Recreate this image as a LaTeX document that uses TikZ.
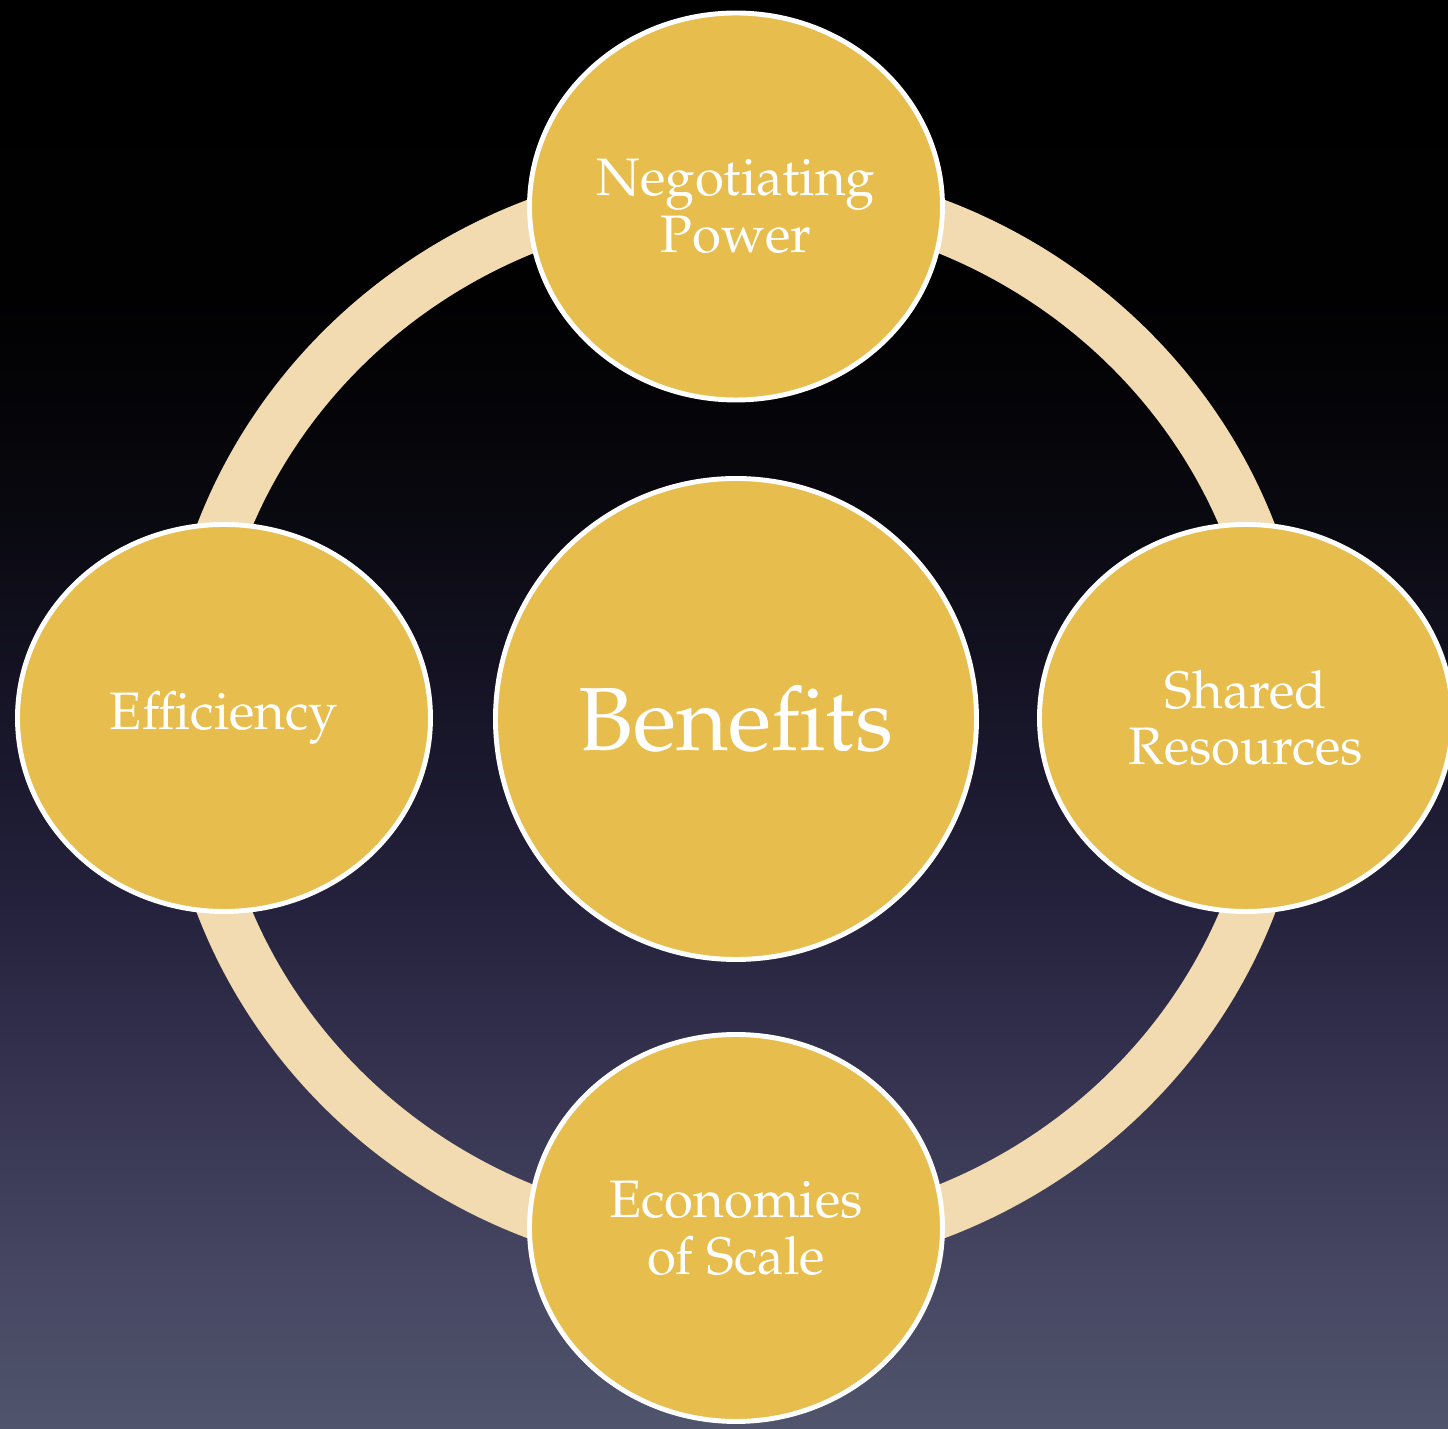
\documentclass[tikz,border=0pt]{standalone}
\usepackage[T1]{fontenc}
\usepackage{mathpazo}
\usepackage{tikz}
\usetikzlibrary{shapes.geometric,positioning}

\definecolor{gold}{HTML}{E7BD4D}
\definecolor{sand}{HTML}{F2DBB0}

% night sky, lighter towards the bottom
\pgfdeclareverticalshading{nightsky}{100bp}{%
  rgb(0bp)=(0.314,0.329,0.424); rgb(25bp)=(0.314,0.329,0.424);
  rgb(29.5bp)=(0.282,0.286,0.392); rgb(36.5bp)=(0.216,0.208,0.322);
  rgb(43.5bp)=(0.141,0.129,0.235); rgb(50.5bp)=(0.086,0.078,0.149);
  rgb(57.5bp)=(0.031,0.031,0.055); rgb(64.5bp)=(0.004,0.004,0.008);
  rgb(75bp)=(0,0,0); rgb(100bp)=(0,0,0)}

\begin{document}
\begin{tikzpicture}
        %styles
        \tikzstyle{hub}=[circle, draw=white, line width=1.4pt, fill=gold, text=white, inner sep=0pt, minimum size=4.81cm, font=\fontsize{25.5}{30}\selectfont]
        \tikzstyle{spoke}=[ellipse, draw=white, line width=1.4pt, fill=gold, text=white, inner sep=0pt, minimum width=4.13cm, minimum height=3.87cm, align=center, font=\fontsize{15}{16.2}\selectfont]
        \tikzstyle{ring}=[draw=sand, line width=0.52cm]

        %background
        \clip (-7.36,-7.10) rectangle (7.12,7.19);
        \shade[shading=nightsky] (-7.36,-7.10) rectangle (7.12,7.19);

        %nodes
        \node[hub] (ben) at (0,0) {Benefits};

        \draw[ring] (ben.center) ellipse [x radius=5.49, y radius=5.31];

        \node[spoke] (neg) at (0,5.125) {Negotiating\\Power};
        \node[spoke] (shr) at (5.10,0.01) {Shared\\Resources};
        \node[spoke] (eco) at (0,-5.09) {Economies\\of Scale};
        \node[spoke] (eff) at (-5.12,0.01) {Efficiency};

\end{tikzpicture}
\end{document}
